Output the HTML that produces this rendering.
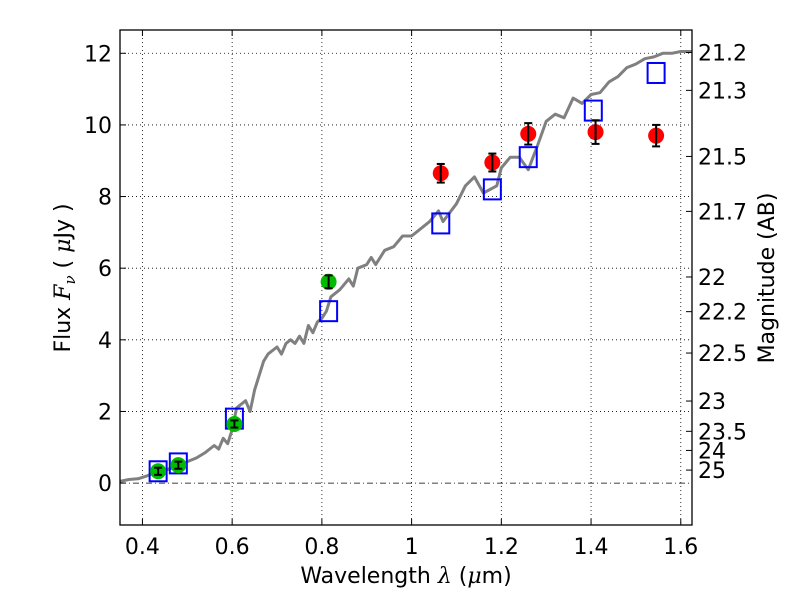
<!DOCTYPE html>
<html><head><meta charset="utf-8"><style>
body{margin:0;background:#fff}
svg{display:block;font-family:"DejaVu Sans","Liberation Sans",sans-serif}
</style></head><body>
<svg id="chart" width="800" height="600" viewBox="0 0 800 600">
<rect width="800" height="600" fill="#fff"/>
<g id="grid"></g>
<g id="spec"></g>
<g id="marks"></g>
<rect x="120" y="30" width="572" height="495" fill="none" stroke="#000" stroke-width="1.3"/>
<g id="ticks" font-size="22"></g>
<text x="406" y="583" font-size="22" text-anchor="middle">Wavelength  <tspan font-family="DejaVu Serif" font-style="italic">λ</tspan> (<tspan font-family="DejaVu Serif" font-style="italic">μ</tspan>m)</text>
<text transform="translate(70,278) rotate(-90)" font-size="22" text-anchor="middle">Flux  <tspan font-family="DejaVu Serif" font-style="italic">F<tspan font-size="15" dy="5">ν</tspan></tspan><tspan dy="-5">  ( </tspan><tspan font-family="DejaVu Serif" font-style="italic">μ</tspan>Jy )</text>
<text transform="translate(774,278) rotate(-90)" font-size="22" text-anchor="middle">Magnitude (AB)</text>
</svg>
<script>
const xTicks=[0.4,0.6,0.8,1.0,1.2,1.4,1.6];
const xTickLabels=["0.4","0.6","0.8","1","1.2","1.4","1.6"];
const yTicks=[0,2,4,6,8,10,12];
const magTicks=[21.2,21.3,21.5,21.7,22,22.2,22.5,23,23.5,24,25];
const specX=[0.35,0.37,0.39,0.41,0.42,0.44,0.46,0.48,0.5,0.52,0.54,0.56,0.57,0.58,0.59,0.6,0.61,0.62,0.63,0.64,0.65,0.66,0.67,0.68,0.7,0.71,0.72,0.73,0.74,0.75,0.76,0.77,0.78,0.79,0.8,0.81,0.82,0.84,0.86,0.87,0.88,0.9,0.91,0.92,0.94,0.96,0.98,1.0,1.02,1.04,1.06,1.07,1.1,1.12,1.14,1.16,1.19,1.2,1.22,1.24,1.26,1.28,1.3,1.32,1.34,1.36,1.38,1.4,1.42,1.44,1.46,1.48,1.5,1.52,1.54,1.56,1.58,1.6,1.625];
const specY=[0.05,0.1,0.12,0.2,0.25,0.3,0.4,0.45,0.6,0.7,0.85,1.05,0.95,1.25,1.1,1.5,2.1,2.2,2.3,2.0,2.6,3.0,3.4,3.6,3.8,3.6,3.9,4.0,3.9,4.1,3.9,4.4,4.2,4.5,4.6,4.8,5.2,5.4,5.7,5.5,6.0,6.1,6.3,6.1,6.5,6.6,6.9,6.9,7.1,7.3,7.6,7.3,7.8,8.3,8.55,8.1,8.3,8.8,9.1,9.1,8.75,9.4,10.1,10.3,10.2,10.75,10.6,10.85,10.9,11.2,11.35,11.6,11.7,11.85,11.9,12.0,12.0,12.05,12.05];
const greenX=[0.435,0.48,0.605,0.815];
const greenY=[0.33,0.5,1.65,5.62];
const greenErr=[0.1,0.1,0.1,0.18];
const redX=[1.065,1.18,1.26,1.41,1.545];
const redY=[8.65,8.95,9.75,9.8,9.7];
const redErr=[0.26,0.25,0.3,0.33,0.3];
const blueX=[0.435,0.48,0.605,0.815,1.065,1.18,1.26,1.405,1.545];
const blueY=[0.33,0.55,1.8,4.8,7.25,8.2,9.1,10.4,11.45];

const X0=120,X1=692,Y0=525,Y1=30,xmin=0.35,xmax=1.625,ymin=-1.17,ymax=12.65;
const sx=v=>X0+(v-xmin)/(xmax-xmin)*(X1-X0);
const sy=v=>Y0-(v-ymin)/(ymax-ymin)*(Y0-Y1);
const NS="http://www.w3.org/2000/svg";
function mk(p,t,a){const e=document.createElementNS(NS,t);for(const k in a)e.setAttribute(k,a[k]);p.appendChild(e);return e;}
const G=document.getElementById('grid'),S=document.getElementById('spec'),M=document.getElementById('marks'),T=document.getElementById('ticks');
xTicks.forEach((v,i)=>{const x=sx(v);
 let l=mk(G,'line',{x1:x,x2:x,y1:Y1,y2:Y0,stroke:'#000','stroke-width':0.8,'stroke-dasharray':'1,3'});
 
 
 mk(T,'line',{x1:x,x2:x,y1:Y0,y2:Y0-6,stroke:'#000'});mk(T,'line',{x1:x,x2:x,y1:Y1,y2:Y1+6,stroke:'#000'});
 let t=mk(T,'text',{x:x,y:Y0+29,'text-anchor':'middle'});t.textContent=xTickLabels[i];
 
 });
yTicks.forEach(v=>{const y=sy(v);
 let l=mk(G,'line',{x1:X0,x2:X1,y1:y,y2:y,stroke:'#000','stroke-width':0.8,'stroke-dasharray':v===0?'6,3,1,3':'1,3'});
 
 
 mk(T,'line',{x1:X0,x2:X0+6,y1:y,y2:y,stroke:'#000'});
 let t=mk(T,'text',{x:X0-8,y:y+8,'text-anchor':'end'});t.textContent=String(v);
 
 });
magTicks.forEach(m=>{const y=sy(Math.pow(10,(23.9-m)/2.5));
 mk(T,'line',{x1:X1,x2:X1-6,y1:y,y2:y,stroke:'#000'});
 let t=mk(T,'text',{x:X1+6,y:y+8});t.textContent=String(m);
 
 });
let d=specX.map((v,i)=>(i?'L':'M')+sx(v).toFixed(1)+','+sy(specY[i]).toFixed(1)).join('');
let p=mk(S,'path',{d:d,fill:'none',stroke:'#808080','stroke-width':3,'stroke-linejoin':'round'});


function pt(x,y,e,col){const cx=sx(x),cy=sy(y);
 let c=mk(M,'circle',{cx:cx,cy:cy,r:8,fill:col});
 
 
 mk(M,'line',{x1:cx,x2:cx,y1:sy(y-e),y2:sy(y+e),stroke:'#000','stroke-width':2});
 mk(M,'line',{x1:cx-4,x2:cx+4,y1:sy(y-e),y2:sy(y-e),stroke:'#000','stroke-width':2});
 mk(M,'line',{x1:cx-4,x2:cx+4,y1:sy(y+e),y2:sy(y+e),stroke:'#000','stroke-width':2});}
blueX.forEach((x,i)=>{let r=mk(M,'rect',{x:sx(x)-8.5,y:sy(blueY[i])-10,width:17,height:20,fill:'none',stroke:'#0000ff','stroke-width':2});
 
 });
greenX.forEach((x,i)=>pt(x,greenY[i],greenErr[i],'#00bb00'));
redX.forEach((x,i)=>pt(x,redY[i],redErr[i],'red'));
</script>
</body></html>
